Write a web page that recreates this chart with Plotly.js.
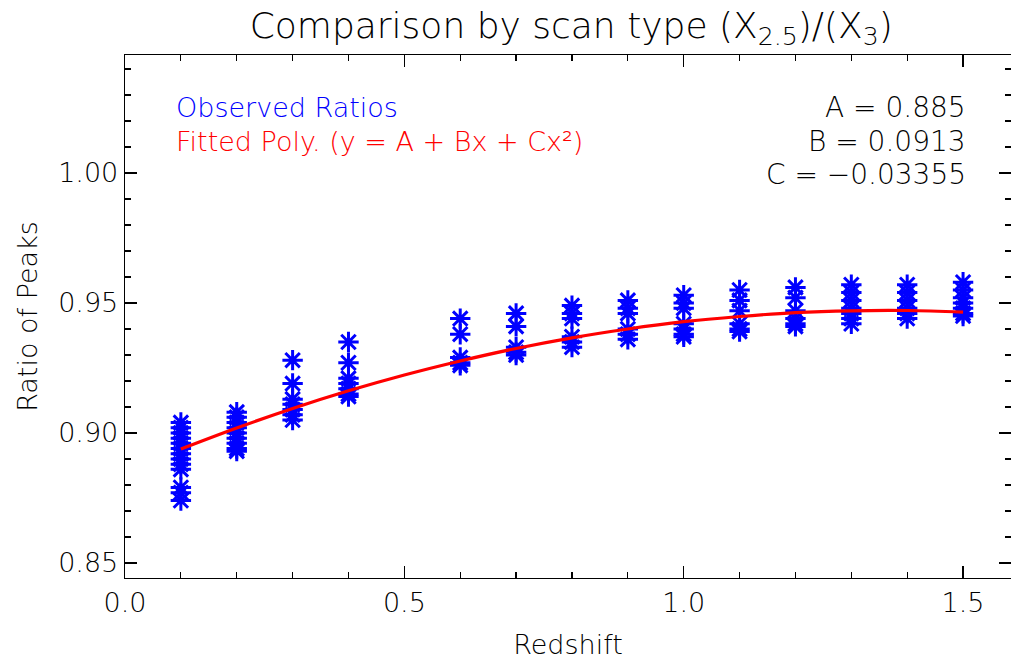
<!DOCTYPE html>
<html>
<head>
<meta charset="utf-8">
<script src="https://cdn.plot.ly/plotly-3.0.1.min.js"></script>
<style>html,body{margin:0;padding:0;background:#fff;}#plot{width:1011px;height:664px;}</style>
</head>
<body>
<div id="plot"></div>
<script>
// Redshift levels where the ratios were observed
const zLevels = [0.1, 0.2, 0.3, 0.4, 0.6, 0.7, 0.8, 0.9, 1.0, 1.1, 1.2, 1.3, 1.4, 1.5];
// Observed peak ratios at each redshift level
const ratios_z01 = [0.904, 0.902, 0.900, 0.898, 0.896, 0.894, 0.892, 0.890, 0.888, 0.886, 0.879, 0.877, 0.874];
const ratios_z02 = [0.908, 0.906, 0.904, 0.902, 0.900, 0.898, 0.896, 0.894, 0.893];
const ratios_z03 = [0.928, 0.919, 0.913, 0.911, 0.909, 0.907, 0.905];
const ratios_z04 = [0.935, 0.927, 0.921, 0.919, 0.917, 0.915, 0.914];
const ratios_z06 = [0.944, 0.938, 0.929, 0.927, 0.926];
const ratios_z07 = [0.946, 0.941, 0.933, 0.931, 0.930];
const ratios_z08 = [0.949, 0.946, 0.944, 0.937, 0.935, 0.933];
const ratios_z09 = [0.951, 0.948, 0.946, 0.940, 0.938, 0.936];
const ratios_z10 = [0.953, 0.950, 0.948, 0.942, 0.940, 0.938, 0.937];
const ratios_z11 = [0.955, 0.951, 0.947, 0.942, 0.940, 0.939];
const ratios_z12 = [0.956, 0.952, 0.947, 0.944, 0.942, 0.941];
const ratios_z13 = [0.957, 0.954, 0.951, 0.948, 0.946, 0.944, 0.942];
const ratios_z14 = [0.957, 0.954, 0.951, 0.948, 0.946, 0.944];
const ratios_z15 = [0.958, 0.955, 0.952, 0.950, 0.948, 0.946, 0.945];
const ratioGroups = [ratios_z01, ratios_z02, ratios_z03, ratios_z04, ratios_z06, ratios_z07, ratios_z08,
                     ratios_z09, ratios_z10, ratios_z11, ratios_z12, ratios_z13, ratios_z14, ratios_z15];
// Fitted polynomial curve
const fitX = [0.1, 0.2, 0.3, 0.4, 0.5, 0.6, 0.7, 0.8, 0.9, 1.0, 1.1, 1.2, 1.3, 1.4, 1.5];
const fitY = [0.8938, 0.9019, 0.9094, 0.9162, 0.9223, 0.9277, 0.9325, 0.9366, 0.9400, 0.9428, 0.9448, 0.9463, 0.9470, 0.9471, 0.9465];
// Texts
const titleText = 'Comparison by scan type (X<sub>2.5</sub>)/(X<sub>3</sub>)';
const xTitle = 'Redshift';
const yTitle = 'Ratio of Peaks';
const legendTexts = ['Observed Ratios', 'Fitted Poly. (y = A + Bx + Cx\u00b2)'];
const coefTexts = ['A = 0.885', 'B = 0.0913', 'C = \u22120.03355'];

const obsX = [], obsY = [];
ratioGroups.forEach((g, i) => g.forEach(v => { obsX.push(zLevels[i]); obsY.push(v); }));

const FONT = 'DejaVu Sans, sans-serif';
const traces = [
  {x: obsX, y: obsY, type: 'scatter', mode: 'markers',
   marker: {symbol: 'asterisk-open', size: 17, color: '#0000ff', line: {color: '#0000ff', width: 3}},
   hoverinfo: 'x+y', showlegend: false},
  {x: fitX, y: fitY, type: 'scatter', mode: 'lines', line: {color: '#ff0000', width: 3.2, shape: 'spline'},
   showlegend: false}
];

const axisCommon = {
  showgrid: false, zeroline: false, showline: true, linecolor: '#000', linewidth: 1.3,
  mirror: 'allticks', ticks: 'inside', ticklen: 12, tickcolor: '#000', tickwidth: 1.2,
  tickfont: {family: FONT, size: 27, color: '#000', weight: 200}
};

const annotations = [
  {xref: 'x', yref: 'y', x: 0.088, y: 1.0253, xanchor: 'left', yanchor: 'middle', showarrow: false,
   text: legendTexts[0], font: {family: FONT, size: 27, color: '#0000ff', weight: 200}},
  {xref: 'x', yref: 'y', x: 0.088, y: 1.0122, xanchor: 'left', yanchor: 'middle', showarrow: false,
   text: legendTexts[1], font: {family: FONT, size: 27, color: '#ff0000', weight: 200}},
];
const coefY = [1.0253, 1.0122, 0.9995];
coefTexts.forEach((t, i) => annotations.push({xref: 'x', yref: 'y', x: 1.508, y: coefY[i], xanchor: 'right',
  yanchor: 'middle', showarrow: false, text: t, font: {family: FONT, size: 28, color: '#000', weight: 200}}));

const layout = {
  width: 1011, height: 664,
  margin: {l: 125, r: 0, t: 55, b: 86},
  paper_bgcolor: '#fff', plot_bgcolor: '#fff',
  title: {text: titleText, x: 0.565, xanchor: 'center', y: 0.962, yanchor: 'middle',
          font: {family: FONT, size: 36, color: '#000', weight: 200}},
  xaxis: Object.assign({}, axisCommon, {
    range: [0, 1.5858], tickvals: [0, 0.5, 1.0, 1.5], ticktext: ['0.0', '0.5', '1.0', '1.5'],
    minor: {dtick: 0.1, tick0: 0, ticks: 'inside', ticklen: 6, tickcolor: '#000', tickwidth: 1.2},
    title: {text: xTitle, standoff: 18, font: {family: FONT, size: 27, color: '#000', weight: 200}}
  }),
  yaxis: Object.assign({}, axisCommon, {
    range: [0.8442, 1.0454], tickvals: [0.85, 0.90, 0.95, 1.00], ticktext: ['0.85', '0.90', '0.95', '1.00'],
    minor: {dtick: 0.01, tick0: 0.85, ticks: 'inside', ticklen: 6, tickcolor: '#000', tickwidth: 1.2},
    title: {text: yTitle, standoff: 12, font: {family: FONT, size: 27, color: '#000', weight: 200}}
  }),
  annotations: annotations
};

Plotly.newPlot('plot', traces, layout, {displayModeBar: false, staticPlot: true});
</script>
</body>
</html>
